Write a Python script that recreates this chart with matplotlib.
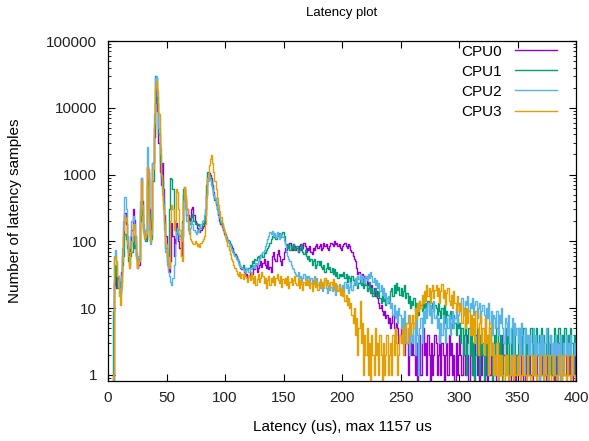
#!/usr/bin/env python3

"""Latency histogram per CPU, log scale, gnuplot look"""

import numpy as np
import matplotlib
matplotlib.use("Agg")
import matplotlib.pyplot as plt
from matplotlib.ticker import FixedLocator, LogLocator, NullFormatter

# latency in us, one bin per us
latency = list(range(400))

cpu0 = [
    0, 0, 0, 0, 0, 22, 30, 20, 28, 25,
    18, 35, 60, 120, 265, 180, 100, 70, 60, 85,
    150, 300, 210, 120, 60, 40, 45, 300, 890, 400,
    160, 120, 110, 1300, 1100, 300, 120, 200, 1500, 3700,
    12000, 20000, 9000, 3000, 1100, 700, 1500, 600, 250, 120,
    60, 40, 35, 50, 190, 120, 60, 110, 190, 150,
    100, 80, 60, 120, 500, 600, 450, 300, 250, 200,
    220, 300, 330, 250, 200, 180, 160, 150, 140, 150,
    160, 170, 180, 250, 500, 900, 1050, 1000, 900, 700,
    550, 450, 380, 300, 250, 200, 180, 165, 150, 130,
    120, 110, 100, 95, 90, 85, 80, 70, 65, 60,
    55, 50, 45, 40, 38, 42, 35, 30, 32, 28,
    30, 35, 28, 32, 40, 38, 45, 35, 40, 45,
    50, 42, 48, 55, 45, 40, 50, 38, 42, 35,
    60, 70, 55, 50, 65, 75, 60, 50, 45, 55,
    70, 80, 75, 90, 85, 95, 80, 75, 90, 85,
    75, 80, 70, 85, 90, 75, 80, 95, 85, 70,
    80, 75, 85, 70, 65, 80, 75, 85, 90, 80,
    85, 90, 75, 80, 95, 85, 90, 80, 75, 85,
    95, 90, 85, 100, 90, 95, 85, 90, 80, 75,
    85, 90, 95, 85, 80, 90, 85, 75, 70, 60,
    55, 50, 40, 33, 35, 30, 28, 32, 25, 30,
    28, 22, 25, 20, 18, 22, 17, 20, 15, 18,
    14, 12, 10, 11, 9, 8, 9, 7, 8, 6,
    7, 5, 6, 8, 5, 4, 6, 5, 3, 4,
    5, 3, 4, 2, 5, 3, 1, 4, 3, 2,
    4, 2, 1, 3, 0, 2, 4, 1, 3, 5,
    2, 3, 1, 4, 2, 0, 3, 1, 2, 4,
    3, 1, 2, 4, 1, 3, 2, 0, 2, 3,
    1, 4, 2, 3, 1, 2, 0, 3, 1, 2,
    4, 2, 1, 3, 2, 1, 4, 2, 0, 3,
    2, 1, 3, 2, 4, 1, 2, 0, 3, 1,
    2, 3, 1, 2, 0, 4, 1, 2, 3, 1,
    1, 2, 0, 3, 1, 2, 1, 4, 2, 1,
    3, 1, 2, 0, 1, 2, 3, 1, 0, 2,
    1, 2, 3, 1, 2, 0, 1, 3, 2, 1,
    2, 1, 0, 2, 3, 1, 2, 1, 0, 2,
    1, 3, 2, 1, 0, 2, 1, 2, 3, 1,
    2, 0, 1, 2, 1, 3, 1, 0, 2, 1,
    1, 2, 3, 1, 2, 1, 0, 2, 3, 1,
]

cpu1 = [
    0, 0, 0, 0, 9, 25, 45, 30, 20, 25,
    17, 25, 45, 60, 130, 110, 80, 50, 45, 60,
    70, 120, 80, 100, 60, 45, 55, 200, 400, 250,
    150, 130, 100, 700, 900, 250, 100, 110, 800, 5000,
    30000, 28000, 12000, 4000, 1500, 900, 800, 400, 200, 80,
    50, 60, 300, 900, 850, 600, 200, 150, 130, 140,
    130, 120, 150, 200, 600, 650, 400, 250, 200, 180,
    190, 230, 260, 200, 180, 190, 175, 180, 170, 160,
    180, 190, 200, 300, 700, 1100, 1000, 900, 800, 650,
    500, 420, 350, 300, 260, 220, 190, 170, 150, 140,
    130, 115, 105, 100, 90, 80, 75, 70, 62, 58,
    55, 50, 45, 42, 40, 45, 38, 35, 40, 38,
    40, 45, 42, 50, 48, 55, 52, 58, 60, 55,
    62, 65, 58, 70, 68, 75, 80, 85, 95, 110,
    120, 115, 130, 110, 125, 120, 135, 115, 130, 140,
    120, 90, 85, 80, 90, 75, 85, 80, 90, 75,
    80, 85, 70, 75, 80, 90, 70, 65, 75, 60,
    55, 60, 50, 55, 45, 50, 55, 40, 45, 50,
    45, 50, 42, 38, 45, 35, 40, 48, 38, 42,
    35, 40, 32, 38, 30, 35, 28, 32, 30, 33,
    30, 35, 28, 32, 25, 30, 28, 24, 30, 26,
    22, 28, 25, 20, 24, 30, 22, 26, 20, 24,
    22, 18, 20, 25, 17, 20, 15, 18, 20, 16,
    15, 18, 14, 12, 16, 13, 15, 11, 14, 12,
    13, 18, 20, 15, 22, 17, 24, 19, 21, 16,
    20, 15, 18, 22, 14, 17, 12, 15, 10, 13,
    11, 14, 9, 12, 10, 8, 13, 11, 9, 12,
    10, 12, 9, 13, 11, 8, 10, 12, 9, 11,
    10, 8, 12, 9, 7, 10, 8, 11, 6, 9,
    8, 6, 9, 7, 5, 8, 6, 4, 7, 5,
    6, 3, 5, 2, 4, 6, 1, 3, 5, 2,
    4, 1, 3, 0, 2, 5, 3, 1, 4, 2,
    3, 0, 2, 4, 1, 3, 5, 2, 0, 3,
    4, 2, 5, 3, 1, 4, 2, 0, 3, 5,
    2, 4, 3, 1, 5, 2, 3, 4, 1, 2,
    5, 3, 2, 4, 1, 5, 3, 2, 4, 1,
    3, 5, 2, 4, 3, 1, 5, 2, 4, 3,
    5, 2, 4, 1, 3, 5, 2, 3, 4, 1,
    3, 5, 2, 4, 1, 5, 3, 2, 4, 2,
    5, 3, 1, 4, 2, 5, 3, 1, 4, 3,
]

cpu2 = [
    0, 0, 0, 0, 0, 60, 75, 50, 30, 20,
    15, 30, 80, 200, 460, 300, 120, 70, 80, 120,
    200, 240, 180, 90, 70, 50, 60, 400, 900, 300,
    180, 130, 150, 2600, 1200, 150, 90, 130, 1500, 8000,
    28000, 30000, 15000, 5000, 2000, 1000, 600, 350, 150, 70,
    45, 35, 30, 25, 22, 28, 45, 90, 140, 160,
    130, 110, 100, 180, 400, 550, 300, 200, 150, 130,
    160, 200, 180, 150, 140, 130, 150, 140, 160, 180,
    200, 210, 250, 300, 500, 800, 950, 850, 700, 600,
    520, 440, 380, 320, 270, 230, 200, 180, 160, 140,
    125, 110, 100, 92, 85, 78, 70, 66, 60, 55,
    52, 48, 45, 42, 40, 38, 36, 35, 40, 38,
    35, 40, 38, 42, 45, 40, 48, 44, 50, 55,
    60, 65, 70, 75, 85, 95, 110, 120, 140, 130,
    145, 120, 135, 115, 140, 125, 110, 130, 120, 115,
    100, 90, 70, 60, 55, 50, 45, 40, 38, 35,
    32, 30, 35, 28, 30, 25, 28, 32, 26, 30,
    28, 30, 25, 28, 22, 26, 30, 24, 28, 22,
    25, 20, 24, 18, 22, 26, 20, 17, 22, 19,
    21, 18, 24, 20, 16, 22, 19, 23, 18, 20,
    22, 18, 25, 20, 23, 17, 21, 25, 19, 22,
    25, 28, 22, 30, 27, 33, 25, 30, 28, 24,
    30, 26, 32, 28, 35, 30, 25, 28, 22, 26,
    20, 24, 18, 22, 16, 20, 14, 17, 12, 15,
    13, 10, 12, 8, 11, 7, 9, 6, 10, 8,
    5, 7, 4, 9, 3, 6, 8, 2, 5, 4,
    3, 6, 2, 8, 4, 1, 5, 7, 3, 9,
    6, 10, 7, 12, 8, 11, 6, 9, 13, 7,
    8, 5, 7, 3, 6, 4, 8, 5, 3, 7,
    5, 8, 4, 6, 9, 5, 7, 10, 6, 8,
    12, 9, 14, 10, 8, 13, 11, 15, 9, 12,
    10, 14, 8, 11, 13, 7, 10, 12, 6, 9,
    11, 8, 5, 10, 7, 12, 6, 9, 4, 8,
    7, 5, 9, 4, 8, 6, 10, 5, 3, 7,
    6, 4, 8, 3, 5, 7, 2, 6, 4, 5,
    3, 5, 2, 6, 4, 1, 5, 3, 4, 2,
    4, 2, 3, 5, 1, 4, 2, 3, 0, 4,
    2, 4, 1, 3, 5, 2, 0, 3, 4, 2,
    3, 1, 4, 2, 3, 0, 4, 2, 1, 3,
    2, 4, 1, 3, 2, 4, 1, 2, 3, 2,
]

cpu3 = [
    0, 0, 0, 0, 1, 55, 60, 45, 30, 15,
    11, 20, 50, 150, 230, 200, 90, 60, 40, 70,
    100, 180, 160, 120, 55, 40, 50, 250, 800, 350,
    140, 110, 130, 1300, 900, 200, 100, 150, 1200, 6000,
    20000, 25000, 18000, 8000, 2500, 1000, 500, 300, 180, 90,
    60, 45, 40, 200, 350, 300, 150, 200, 600, 550,
    300, 150, 60, 50, 400, 650, 500, 300, 200, 140,
    110, 100, 95, 90, 100, 95, 85, 90, 83, 95,
    100, 110, 120, 180, 450, 900, 1400, 1700, 1950, 1500,
    1100, 800, 600, 450, 350, 280, 230, 190, 160, 140,
    120, 100, 85, 75, 65, 55, 50, 45, 40, 36,
    33, 30, 35, 28, 32, 27, 33, 30, 28, 25,
    30, 26, 35, 28, 24, 30, 22, 27, 32, 25,
    28, 35, 30, 24, 28, 20, 26, 30, 22, 28,
    25, 30, 22, 28, 33, 26, 24, 30, 21, 27,
    24, 28, 22, 30, 20, 25, 28, 22, 26, 30,
    24, 22, 28, 20, 26, 23, 19, 25, 22, 27,
    22, 26, 20, 24, 18, 23, 28, 21, 25, 19,
    23, 27, 21, 25, 20, 28, 22, 26, 24, 20,
    25, 22, 27, 19, 24, 20, 18, 22, 16, 20,
    15, 18, 13, 16, 11, 14, 10, 12, 8, 6,
    10, 4, 7, 2, 5, 13, 3, 6, 1, 4,
    2, 5, 1, 3, 0, 4, 2, 1, 5, 2,
    3, 1, 4, 2, 0, 3, 1, 2, 4, 1,
    2, 3, 1, 4, 2, 5, 3, 1, 2, 4,
    3, 5, 2, 4, 6, 3, 5, 8, 4, 6,
    8, 5, 10, 7, 12, 9, 13, 10, 16, 12,
    18, 13, 22, 15, 20, 12, 18, 22, 14, 19,
    22, 15, 20, 12, 18, 23, 14, 19, 11, 17,
    20, 13, 11, 16, 10, 18, 12, 9, 15, 11,
    9, 12, 6, 10, 8, 5, 10, 6, 9, 4,
    8, 4, 7, 3, 9, 5, 2, 6, 8, 3,
    5, 2, 7, 3, 4, 1, 6, 2, 3, 1,
    2, 1, 3, 0, 2, 1, 2, 1, 0, 2,
    1, 2, 0, 1, 2, 1, 0, 2, 1, 1,
    2, 1, 0, 1, 2, 1, 1, 0, 2, 1,
    1, 0, 2, 1, 1, 2, 0, 1, 1, 2,
    1, 1, 0, 2, 1, 0, 1, 2, 1, 0,
    2, 1, 1, 0, 1, 2, 1, 0, 1, 2,
    1, 0, 2, 1, 1, 0, 2, 1, 1, 0,
]

series = [("CPU0", cpu0, "#9400d3"),
          ("CPU1", cpu1, "#009e73"),
          ("CPU2", cpu2, "#56b4e9"),
          ("CPU3", cpu3, "#e69f00")]

plt.rcParams["font.family"] = ["Liberation Sans", "DejaVu Sans"]
plt.rcParams["font.size"] = 11

fig = plt.figure(figsize=(5.89, 4.41), dpi=100)
ax = fig.add_axes([0.1834, 0.136, 0.7946, 0.771])

for name, values, color in series:
    ax.step(latency, values, where="post", color=color, lw=1.0, label=name)

ax.set_yscale("log")
ax.set_xlim(0, 400)
ax.set_ylim(0.81, 100000)

ax.set_xticks(np.arange(0, 401, 50))
ax.yaxis.set_major_locator(FixedLocator([1, 10, 100, 1000, 10000, 100000]))
ax.set_yticklabels(["1", "10", "100", "1000", "10000", "100000"])
ax.yaxis.set_minor_locator(LogLocator(base=10, subs=np.arange(2, 10), numticks=20))
ax.yaxis.set_minor_formatter(NullFormatter())

ax.tick_params(which="both", direction="in", top=True, right=True, colors="black",
               labelcolor="#222222", labelsize=11)
ax.tick_params(which="major", length=5, width=0.8)
ax.tick_params(axis="y", which="major", pad=8)
ax.tick_params(axis="x", which="major", pad=7)
ax.tick_params(which="minor", length=2.5, width=0.6)
for s in ax.spines.values():
    s.set_linewidth(0.9)

ax.set_title("Latency plot", fontsize=9.5, pad=18)
ax.set_xlabel("Latency (us), max 1157 us", labelpad=11)
ax.set_ylabel("Number of latency samples", labelpad=17)

ax.legend(loc="upper right", frameon=False, markerfirst=False, handlelength=2.75,
          handletextpad=0.9, labelspacing=0.4, fontsize=11,
          bbox_to_anchor=(0.989, 1.03))

fig.savefig("out.png", dpi=100)
